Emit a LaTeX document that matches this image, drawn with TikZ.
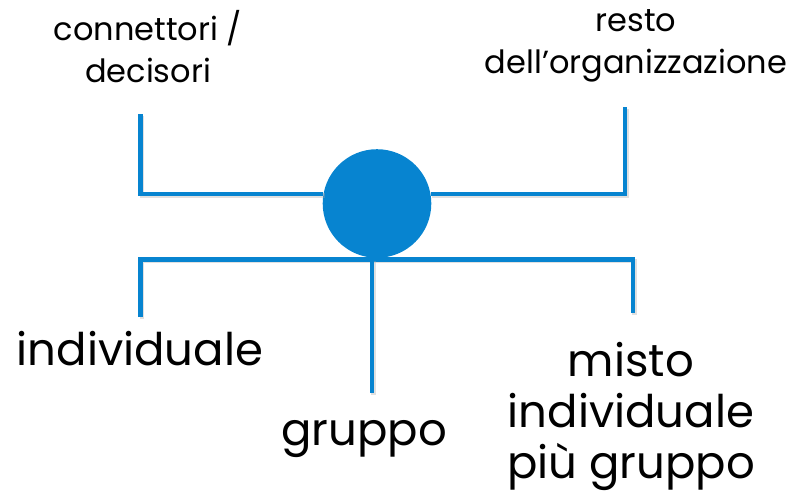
\documentclass[tikz,border=0pt]{standalone}
\usepackage{fontspec}
\setmainfont{Poppins}
\usetikzlibrary{calc}
\definecolor{lineblue}{RGB}{7,132,208}
\tikzset{
  conn/.style={draw=lineblue, line width=4.6pt,
    preaction={draw=black!35, opacity=0.35, line width=4.6pt, transform canvas={xshift=1.5pt,yshift=-1.5pt}}},
  small/.style={align=center, font=\fontsize{32}{42}\selectfont, inner sep=0pt},
  big/.style={align=center, font=\fontsize{45}{51}\selectfont, inner sep=0pt},
  hub/.style={circle, fill=lineblue, minimum size=108.6pt, inner sep=0pt}
}
\begin{document}
\begin{tikzpicture}[x=1pt,y=-1pt]
\useasboundingbox (0,0) rectangle (798,499);
\coordinate (ul) at (140.5,114);
\coordinate (ur) at (625,107);
\coordinate (ll) at (140.5,317);
\coordinate (lr) at (633,313);
\coordinate (lm) at (372,393);
\node[hub] (c) at (377,203.5) {};
\draw[conn] (ul) |- (c.170);
\draw[conn] (ur) |- (c.10);
\draw[conn] (ll) |- ($(lr |- c.south)+(0,1.5)$) -- (lr);
\draw[conn] ($(lm |- c.south)+(0,1.5)$) -- (lm);
\node[small] (cd) at (148,47) {connettori /\\decisori};
\node[small] (ro) at (636,46) {resto\\dell’organizzazione};
\node[big] (ind) at (140,349) {individuale};
\node[big] (gru) at (364,439) {gruppo};
\node[big] (mis) at (631,416) {misto\\individuale\\più gruppo};
\end{tikzpicture}
\end{document}
